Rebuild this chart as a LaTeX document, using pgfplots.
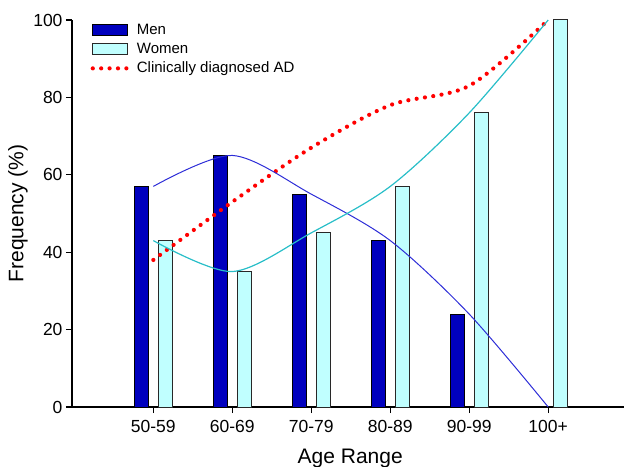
\documentclass[border=0pt]{standalone}
\usepackage{fontspec}
\setmainfont{Liberation Sans}
\usepackage{pgfplots}
\pgfplotsset{compat=1.18}
\definecolor{menfill}{RGB}{0,0,190}
\definecolor{menline}{RGB}{45,45,215}
\definecolor{womenfill}{RGB}{192,255,255}
\definecolor{womenline}{RGB}{40,190,200}
\definecolor{edge}{RGB}{40,40,40}
\pgfplotsset{
  barleg/.style={legend image code/.code={\draw[##1] (0bp,-5.5bp) rectangle (35bp,5.5bp);}},
  dotleg/.style={legend image code/.code={\draw[##1] (0bp,0bp) -- (35bp,0bp);}},
}
\begin{document}
\begin{tikzpicture}
\useasboundingbox (-72bp,-60bp) rectangle (552bp,407bp);
\begin{axis}[
  scale only axis,
  width=552bp, height=387bp,
  xmin=-1.03, xmax=5.96,
  ymin=0, ymax=100,
  axis x line*=bottom,
  axis y line*=left,
  axis line style={line width=1.2bp, black},
  tick style={line width=1.2bp, black},
  tick align=outside,
  major tick length=6bp,
  xtick={0,1,2,3,4,5},
  xticklabels={50-59,60-69,70-79,80-89,90-99,100+},
  ytick={0,20,40,60,80,100},
  /pgf/number format/assume math mode=true,
  tick label style={font=\fontsize{17.5bp}{20bp}\selectfont},
  xticklabel style={yshift=-4bp},
  xlabel={Age Range},
  ylabel={Frequency (\%)},
  label style={font=\fontsize{21bp}{25bp}\selectfont},
  xlabel style={at={(axis description cs:0.504,-0.1447)}, anchor=base},
  ylabel style={at={(axis description cs:-0.0978,0.5)}, anchor=center},
  clip=false,
  legend cell align=left,
  legend style={draw=none, fill=none, at={(axis description cs:0.0335,0.997)}, anchor=north west,
    font=\fontsize{15bp}{18bp}\selectfont, inner sep=0pt, row sep=1bp, column sep=5bp,
    nodes={text height=11bp, text depth=3bp, inner sep=2bp}},
]
\addplot[ybar, bar width=14bp, bar shift=-12bp, fill=menfill, draw=black, line width=1bp, barleg]
  coordinates {(0,57) (1,65) (2,55) (3,43) (4,24)};
\addlegendentry{Men}
\addplot[ybar, bar width=14bp, bar shift=12bp, fill=womenfill, draw=edge, line width=1bp, barleg]
  coordinates {(0,43) (1,35) (2,45) (3,57) (4,76) (5,100)};
\addlegendentry{Women}
\addplot[smooth, color=red, line width=4.2bp, line cap=round, dash pattern=on 0bp off 8.4bp, dotleg]
  coordinates {(0,38) (1,53) (2,67) (3,78) (4,83) (5,100)};
\addlegendentry{Clinically diagnosed AD}
\addplot[smooth, color=menline, line width=1bp, forget plot]
  coordinates {(0,57) (1,65) (2,55) (3,43) (4,24) (5,0)};
\addplot[smooth, color=womenline, line width=1.2bp, forget plot]
  coordinates {(0,43) (1,35) (2,45) (3,57) (4,76) (5,100)};
\end{axis}
\end{tikzpicture}
\end{document}
